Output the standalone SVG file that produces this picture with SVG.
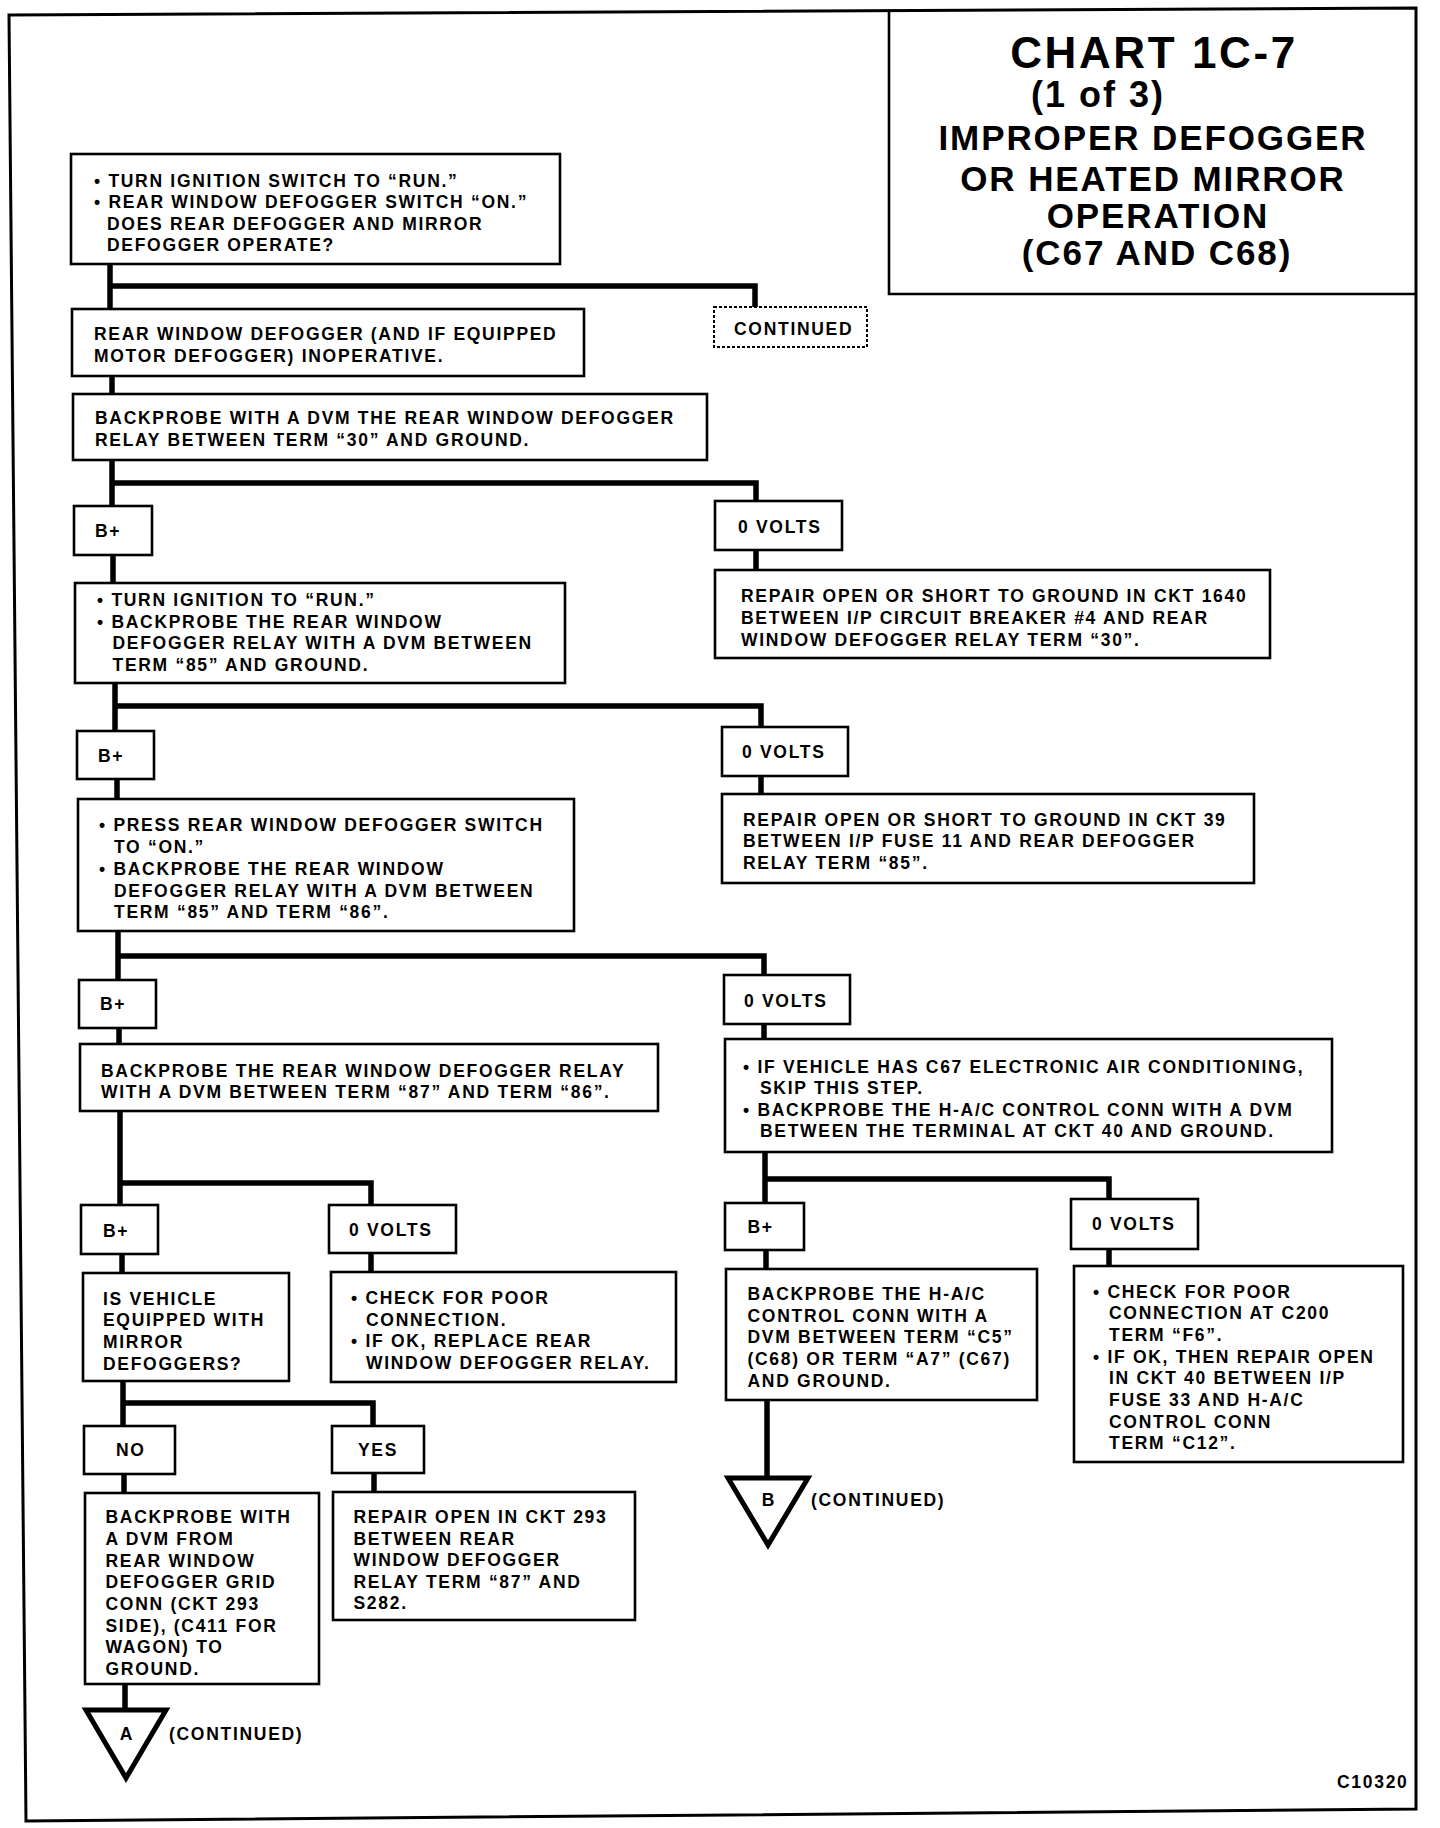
<svg xmlns="http://www.w3.org/2000/svg" width="1440" height="1828" viewBox="0 0 1440 1828">
<style>
.box{fill:#fff;stroke:#000;stroke-width:2.6}
.dash{fill:#fff;stroke:#000;stroke-width:2;stroke-dasharray:3 2}
.t{font-family:'Liberation Sans',Arial,sans-serif;font-weight:bold;font-size:17.5px;letter-spacing:1.7px;fill:#000}
.ttl{font-family:'Liberation Sans',Arial,sans-serif;font-weight:bold;fill:#000;text-anchor:middle;font-size:35px;letter-spacing:1.9px}
.c{fill:none;stroke:#000;stroke-width:5.5;stroke-linejoin:miter;stroke-linecap:butt}
.tri{fill:#fff;stroke:#000;stroke-width:5;stroke-linejoin:miter}
.frame{fill:none;stroke:#000;stroke-width:3}
</style>
<rect width="1440" height="1828" fill="#fff"/>
<polygon class="frame" points="9,15 1416,8 1416,1809 26,1821"/>

<g id="connectors">
<path class="c" d="M110,264 V309 M110,286 H755 V307"/>
<path class="c" d="M112,376 V394"/>
<path class="c" d="M112,460 V506 M112,483 H756 V501"/>
<path class="c" d="M113,555 V583"/>
<path class="c" d="M756,550 V570"/>
<path class="c" d="M115,683 V731 M115,706 H761 V727"/>
<path class="c" d="M117,779 V799"/>
<path class="c" d="M761,776 V794"/>
<path class="c" d="M118,931 V980 M118,956 H764 V975"/>
<path class="c" d="M119,1028 V1044"/>
<path class="c" d="M764,1024 V1039"/>
<path class="c" d="M120,1111 V1205 M120,1183 H371 V1205"/>
<path class="c" d="M765,1152 V1203 M765,1179 H1109 V1199"/>
<path class="c" d="M122,1254 V1273"/>
<path class="c" d="M371,1253 V1272"/>
<path class="c" d="M766,1250 V1269"/>
<path class="c" d="M1109,1249 V1266"/>
<path class="c" d="M123,1381 V1426 M123,1403 H373 V1426"/>
<path class="c" d="M124,1474 V1493"/>
<path class="c" d="M374,1473 V1492"/>
<path class="c" d="M125,1684 V1710"/>
<path class="c" d="M767,1400 V1478"/>
</g>

<g id="title">
<path d="M889,10 V294 H1416" fill="none" stroke="#000" stroke-width="2.6"/>
<text class="ttl" x="1154" y="68" style="font-size:44px;letter-spacing:2.6px">CHART 1C-7</text>
<text class="ttl" x="1031" y="107" style="font-size:36px;letter-spacing:2px;text-anchor:start">(1 of 3)</text>
<text class="ttl" x="1153" y="150">IMPROPER DEFOGGER</text>
<text class="ttl" x="1153" y="190.5">OR HEATED MIRROR</text>
<text class="ttl" x="1158" y="227.5">OPERATION</text>
<text class="ttl" x="1157" y="265">(C67 AND C68)</text>
</g>

<g id="n1">
<rect class="box" x="71" y="154" width="489" height="110"/>
<text class="t" x="94" y="187">• TURN IGNITION SWITCH TO “RUN.”</text>
<text class="t" x="94" y="208">• REAR WINDOW DEFOGGER SWITCH “ON.”</text>
<text class="t" x="107" y="229.5">DOES REAR DEFOGGER AND MIRROR</text>
<text class="t" x="107" y="251">DEFOGGER OPERATE?</text>
</g>

<g id="continued">
<rect class="dash" x="714" y="307" width="153" height="40"/>
<text class="t" x="734" y="334.5">CONTINUED</text>
</g>

<g id="n2">
<rect class="box" x="72" y="309" width="512" height="67"/>
<text class="t" x="94" y="340">REAR WINDOW DEFOGGER (AND IF EQUIPPED</text>
<text class="t" x="94" y="361.5">MOTOR DEFOGGER) INOPERATIVE.</text>
</g>

<g id="n3">
<rect class="box" x="73" y="394" width="634" height="66"/>
<text class="t" x="95" y="424">BACKPROBE WITH A DVM THE REAR WINDOW DEFOGGER</text>
<text class="t" x="95" y="445.5">RELAY BETWEEN TERM “30” AND GROUND.</text>
</g>

<g id="bplus1">
<rect class="box" x="74" y="506" width="78" height="49"/>
<text class="t" x="95" y="537">B+</text>
</g>

<g id="zero1">
<rect class="box" x="715" y="501" width="127" height="49"/>
<text class="t" x="738" y="533">0 VOLTS</text>
</g>

<g id="n5">
<rect class="box" x="715" y="570" width="555" height="88"/>
<text class="t" x="741" y="602">REPAIR OPEN OR SHORT TO GROUND IN CKT 1640</text>
<text class="t" x="741" y="624">BETWEEN I/P CIRCUIT BREAKER #4 AND REAR</text>
<text class="t" x="741" y="646">WINDOW DEFOGGER RELAY TERM “30”.</text>
</g>

<g id="n4">
<rect class="box" x="75" y="583" width="490" height="100"/>
<text class="t" x="97" y="606">• TURN IGNITION TO “RUN.”</text>
<text class="t" x="97" y="627.7">• BACKPROBE THE REAR WINDOW</text>
<text class="t" x="112.5" y="649.4">DEFOGGER RELAY WITH A DVM BETWEEN</text>
<text class="t" x="112.5" y="671">TERM “85” AND GROUND.</text>
</g>

<g id="bplus2">
<rect class="box" x="77" y="731" width="77" height="48"/>
<text class="t" x="98" y="762">B+</text>
</g>

<g id="zero2">
<rect class="box" x="722" y="727" width="126" height="49"/>
<text class="t" x="742" y="758">0 VOLTS</text>
</g>

<g id="n6">
<rect class="box" x="78" y="799" width="496" height="132"/>
<text class="t" x="99" y="830.5">• PRESS REAR WINDOW DEFOGGER SWITCH</text>
<text class="t" x="114" y="852.5">TO “ON.”</text>
<text class="t" x="99" y="874.5">• BACKPROBE THE REAR WINDOW</text>
<text class="t" x="114" y="896.5">DEFOGGER RELAY WITH A DVM BETWEEN</text>
<text class="t" x="114" y="918">TERM “85” AND TERM “86”.</text>
</g>

<g id="n14">
<rect class="box" x="722" y="794" width="532" height="89"/>
<text class="t" x="743" y="825.5">REPAIR OPEN OR SHORT TO GROUND IN CKT 39</text>
<text class="t" x="743" y="847">BETWEEN I/P FUSE 11 AND REAR DEFOGGER</text>
<text class="t" x="743" y="869">RELAY TERM “85”.</text>
</g>

<g id="bplus3">
<rect class="box" x="79" y="980" width="77" height="48"/>
<text class="t" x="100" y="1010">B+</text>
</g>

<g id="zero3">
<rect class="box" x="724" y="975" width="126" height="49"/>
<text class="t" x="744" y="1006.5">0 VOLTS</text>
</g>

<g id="n7">
<rect class="box" x="80" y="1044" width="578" height="67"/>
<text class="t" x="101" y="1076.5">BACKPROBE THE REAR WINDOW DEFOGGER RELAY</text>
<text class="t" x="101" y="1098">WITH A DVM BETWEEN TERM “87” AND TERM “86”.</text>
</g>

<g id="n15">
<rect class="box" x="725" y="1039" width="607" height="113"/>
<text class="t" x="743" y="1072.5">• IF VEHICLE HAS C67 ELECTRONIC AIR CONDITIONING,</text>
<text class="t" x="760" y="1094">SKIP THIS STEP.</text>
<text class="t" x="743" y="1115.5">• BACKPROBE THE H-A/C CONTROL CONN WITH A DVM</text>
<text class="t" x="760" y="1137">BETWEEN THE TERMINAL AT CKT 40 AND GROUND.</text>
</g>

<g id="bplus4">
<rect class="box" x="81" y="1205" width="77" height="49"/>
<text class="t" x="103" y="1237">B+</text>
</g>

<g id="zero4">
<rect class="box" x="329" y="1205" width="127" height="48"/>
<text class="t" x="349" y="1235.5">0 VOLTS</text>
</g>

<g id="bplus5">
<rect class="box" x="725" y="1203" width="79" height="47"/>
<text class="t" x="747.5" y="1233">B+</text>
</g>

<g id="zero5">
<rect class="box" x="1071" y="1199" width="127" height="50"/>
<text class="t" x="1092" y="1230">0 VOLTS</text>
</g>

<g id="n8">
<rect class="box" x="83" y="1273" width="206" height="108"/>
<text class="t" x="103" y="1304.5">IS VEHICLE</text>
<text class="t" x="103" y="1326">EQUIPPED WITH</text>
<text class="t" x="103" y="1348">MIRROR</text>
<text class="t" x="103" y="1369.5">DEFOGGERS?</text>
</g>

<g id="n9">
<rect class="box" x="331" y="1272" width="345" height="110"/>
<text class="t" x="351" y="1304">• CHECK FOR POOR</text>
<text class="t" x="366" y="1325.5">CONNECTION.</text>
<text class="t" x="351" y="1347">• IF OK, REPLACE REAR</text>
<text class="t" x="366" y="1368.5">WINDOW DEFOGGER RELAY.</text>
</g>

<g id="n12">
<rect class="box" x="726" y="1269" width="311" height="131"/>
<text class="t" x="747.5" y="1300">BACKPROBE THE H-A/C</text>
<text class="t" x="747.5" y="1321.5">CONTROL CONN WITH A</text>
<text class="t" x="747.5" y="1343">DVM BETWEEN TERM “C5”</text>
<text class="t" x="747.5" y="1365">(C68) OR TERM “A7” (C67)</text>
<text class="t" x="747.5" y="1386.5">AND GROUND.</text>
</g>

<g id="n13">
<rect class="box" x="1074" y="1266" width="329" height="196"/>
<text class="t" x="1093" y="1297.5">• CHECK FOR POOR</text>
<text class="t" x="1109" y="1319">CONNECTION AT C200</text>
<text class="t" x="1109" y="1341">TERM “F6”.</text>
<text class="t" x="1093" y="1362.5">• IF OK, THEN REPAIR OPEN</text>
<text class="t" x="1109" y="1384">IN CKT 40 BETWEEN I/P</text>
<text class="t" x="1109" y="1406">FUSE 33 AND H-A/C</text>
<text class="t" x="1109" y="1427.5">CONTROL CONN</text>
<text class="t" x="1109" y="1448.5">TERM “C12”.</text>
</g>

<g id="no">
<rect class="box" x="84" y="1426" width="91" height="48"/>
<text class="t" x="116" y="1456">NO</text>
</g>

<g id="yes">
<rect class="box" x="332" y="1426" width="92" height="47"/>
<text class="t" x="358" y="1456">YES</text>
</g>

<g id="n10">
<rect class="box" x="85" y="1493" width="234" height="191"/>
<text class="t" x="105.5" y="1523">BACKPROBE WITH</text>
<text class="t" x="105.5" y="1545">A DVM FROM</text>
<text class="t" x="105.5" y="1566.5">REAR WINDOW</text>
<text class="t" x="105.5" y="1588">DEFOGGER GRID</text>
<text class="t" x="105.5" y="1610">CONN (CKT 293</text>
<text class="t" x="105.5" y="1631.5">SIDE), (C411 FOR</text>
<text class="t" x="105.5" y="1653">WAGON) TO</text>
<text class="t" x="105.5" y="1674.5">GROUND.</text>
</g>

<g id="n11">
<rect class="box" x="333" y="1492" width="302" height="128"/>
<text class="t" x="353.5" y="1523">REPAIR OPEN IN CKT 293</text>
<text class="t" x="353.5" y="1544.5">BETWEEN REAR</text>
<text class="t" x="353.5" y="1566">WINDOW DEFOGGER</text>
<text class="t" x="353.5" y="1587.5">RELAY TERM “87” AND</text>
<text class="t" x="353.5" y="1609">S282.</text>
</g>

<g id="offpageA">
<polygon class="tri" points="86,1710 166,1710 126,1778"/>
<text class="t" x="126" y="1740" text-anchor="middle" style="letter-spacing:0">A</text>
<text class="t" x="169" y="1740">(CONTINUED)</text>
</g>

<g id="offpageB">
<polygon class="tri" points="728,1478 808,1478 768,1545"/>
<text class="t" x="768" y="1506" text-anchor="middle" style="letter-spacing:0">B</text>
<text class="t" x="811" y="1506">(CONTINUED)</text>
</g>

<g id="code">
<text class="t" x="1337" y="1787.5">C10320</text>
</g>
</svg>
